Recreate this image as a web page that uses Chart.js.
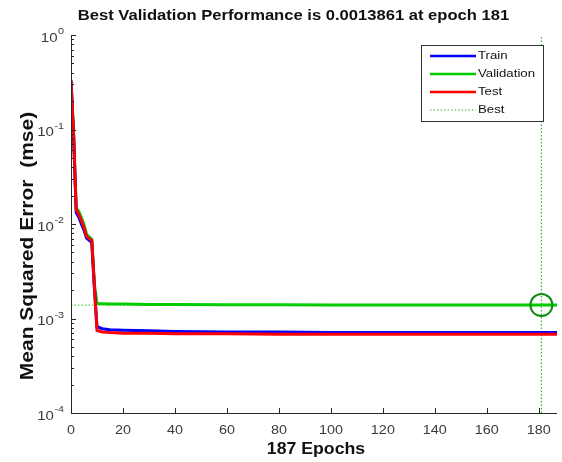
<!DOCTYPE html>
<html>
<head>
<meta charset="utf-8">
<script src="https://cdn.jsdelivr.net/npm/chart.js@4.4.1/dist/chart.umd.min.js"></script>
<style>
  html, body { margin: 0; padding: 0; background: #fff; }
  canvas { display: block; }
</style>
</head>
<body>
<canvas id="perf" width="562" height="462"></canvas>
<script>
// Training record (mse per epoch, read at the break points of each curve)
const epochs    = [0, 1, 2, 3, 4, 5, 6, 7, 8, 9, 10, 12, 15, 20, 30, 40, 60, 80, 100, 120, 140, 160, 181, 187];
const trainPerf = [0.33, 0.085, 0.0132, 0.0118, 0.0100, 0.0086, 0.0071, 0.0067, 0.0064, 0.0021, 0.00082, 0.00078, 0.00076, 0.00075, 0.00074, 0.00073, 0.00072, 0.00072, 0.00071, 0.00071, 0.00071, 0.00071, 0.00071, 0.00071];
const valPerf   = [0.33, 0.09, 0.0148, 0.0136, 0.0116, 0.0098, 0.0078, 0.0073, 0.0069, 0.0023, 0.00144, 0.00143, 0.00142, 0.00142, 0.00141, 0.00141, 0.00140, 0.00140, 0.00139, 0.00139, 0.00139, 0.00139, 0.0013861, 0.00139];
const testPerf  = [0.33, 0.088, 0.0142, 0.0127, 0.0109, 0.0092, 0.0074, 0.0070, 0.0067, 0.0022, 0.00075, 0.00072, 0.00071, 0.00070, 0.00070, 0.00069, 0.00069, 0.00068, 0.00068, 0.00068, 0.00068, 0.00068, 0.00068, 0.00068];

const bestEpoch = 181;
const bestPerf  = 0.0013861;
const maxEpoch  = 187;

const xTicks = [0, 20, 40, 60, 80, 100, 120, 140, 160, 180];
const yDecades = [-4, -3, -2, -1, 0];
const legendNames = ['Train', 'Validation', 'Test', 'Best'];

const FONT = '"Liberation Sans", Arial, Helvetica, sans-serif';
const C_TRAIN = '#0000ff', C_VAL = '#00cc00', C_TEST = '#ff0000';
const C_BEST = '#33b833', C_CIRCLE = '#118c11';

const pts = (ys) => epochs.map((e, i) => ({ x: e, y: ys[i] }));

// draws text with an optional horizontal stretch
function txt(ctx, s, x, y, size, bold, align, sx, color, rot) {
    ctx.save();
    ctx.translate(x, y);
    if (rot) ctx.rotate(rot);
    ctx.scale(sx || 1, 1);
    ctx.font = (bold ? 'bold ' : '') + size + 'px ' + FONT;
    ctx.textAlign = align;
    ctx.textBaseline = 'middle';
    ctx.fillStyle = color;
    ctx.fillText(s, 0, 0);
    ctx.restore();
}

const matlabAxes = {
    id: 'matlabAxes',
    beforeDraw(chart) {
        const ctx = chart.ctx;
        ctx.save();
        ctx.fillStyle = '#fff';
        ctx.fillRect(0, 0, chart.width, chart.height);
        ctx.restore();
    },
    afterDraw(chart) {
        const { ctx, chartArea: a, scales: { x, y } } = chart;
        ctx.save();

        // axis lines
        ctx.strokeStyle = '#262626';
        ctx.lineWidth = 1;
        ctx.beginPath();
        ctx.moveTo(a.left + 0.5, a.top);
        ctx.lineTo(a.left + 0.5, a.bottom + 0.5);
        ctx.lineTo(a.right, a.bottom + 0.5);
        ctx.stroke();

        // inward ticks
        ctx.beginPath();
        xTicks.forEach(v => {
            const px = Math.round(x.getPixelForValue(v)) + 0.5;
            ctx.moveTo(px, a.bottom);
            ctx.lineTo(px, a.bottom - 5);
        });
        yDecades.forEach((d, i) => {
            const base = Math.pow(10, d);
            let py = Math.round(y.getPixelForValue(base)) + 0.5;
            ctx.moveTo(a.left, py);
            ctx.lineTo(a.left + 5, py);
            if (i < yDecades.length - 1) {
                for (let m = 2; m <= 9; m++) {
                    py = Math.round(y.getPixelForValue(base * m)) + 0.5;
                    ctx.moveTo(a.left, py);
                    ctx.lineTo(a.left + 3, py);
                }
            }
        });
        ctx.stroke();

        // tick labels
        xTicks.forEach(v => {
            txt(ctx, String(v), x.getPixelForValue(v), 431, 12, false, 'center', 1.2, '#3a3a3a');
        });
        yDecades.forEach(d => {
            const py = y.getPixelForValue(Math.pow(10, d));
            const exp = String(d);
            ctx.font = '9px ' + FONT;
            const ew = ctx.measureText(exp).width * 1.2;
            const right = 64;
            txt(ctx, exp, right, py - 3, 9, false, 'right', 1.2, '#3a3a3a');
            txt(ctx, '10', right - ew - 0.5, py + 3.5, 12, false, 'right', 1.25, '#3a3a3a');
        });

        // titles
        txt(ctx, 'Best Validation Performance is ' + bestPerf + ' at epoch ' + bestEpoch,
            293.5, 16, 15.5, true, 'center', 1.07, '#111');
        txt(ctx, maxEpoch + ' Epochs', 316, 449, 17, true, 'center', 1.04, '#111');
        txt(ctx, 'Mean Squared Error  (mse)', 28, 246, 17.5, true, 'center', 1.2, '#111', -Math.PI / 2);

        // legend
        const lx = 421.5, ly = 45.5, lw = 122, lh = 76;
        ctx.fillStyle = '#fff';
        ctx.fillRect(lx, ly, lw, lh);
        ctx.strokeStyle = '#333';
        ctx.lineWidth = 1;
        ctx.strokeRect(lx, ly, lw, lh);
        const rows = [56, 74, 92, 110];
        const styles = [
            { c: C_TRAIN, w: 2.5, dash: [] },
            { c: C_VAL, w: 2.5, dash: [] },
            { c: C_TEST, w: 2.5, dash: [] },
            { c: C_BEST, w: 1, dash: [1.5, 2] }
        ];
        legendNames.forEach((name, i) => {
            ctx.beginPath();
            ctx.strokeStyle = styles[i].c;
            ctx.lineWidth = styles[i].w;
            ctx.setLineDash(styles[i].dash);
            ctx.moveTo(430, rows[i]);
            ctx.lineTo(476, rows[i]);
            ctx.stroke();
            ctx.setLineDash([]);
            txt(ctx, name, 478, rows[i], 11, false, 'left', 1.2, '#111');
        });
        ctx.restore();
    }
};

const lineSet = (label, data, color, order) => ({
    label, data, order,
    borderColor: color,
    backgroundColor: color,
    borderWidth: 3,
    pointRadius: 0,
    tension: 0,
    fill: false
});

new Chart(document.getElementById('perf'), {
    type: 'line',
    data: {
        datasets: [
            lineSet('Train', pts(trainPerf), C_TRAIN, 2),
            lineSet('Validation', pts(valPerf), C_VAL, 3),
            lineSet('Test', pts(testPerf), C_TEST, 1),
            {
                label: 'Best',
                data: [{ x: 0, y: bestPerf }, { x: bestEpoch, y: bestPerf }],
                borderColor: C_BEST, borderWidth: 1, borderDash: [1.5, 2],
                pointRadius: 0, fill: false, order: 4
            },
            {
                label: 'Best epoch',
                data: [{ x: bestEpoch, y: 1e-4 }, { x: bestEpoch, y: 1 }],
                borderColor: C_BEST, borderWidth: 1.2, borderDash: [1.5, 2],
                pointRadius: 0, fill: false, order: 5
            },
            {
                label: 'Best point',
                data: [{ x: bestEpoch, y: bestPerf }],
                showLine: false,
                pointRadius: 11,
                pointBorderWidth: 2,
                pointBorderColor: C_CIRCLE,
                pointBackgroundColor: 'rgba(0,0,0,0)',
                order: 0
            }
        ]
    },
    options: {
        responsive: false,
        animation: false,
        devicePixelRatio: 1,
        layout: { autoPadding: false, padding: { left: 71, top: 35, right: 5, bottom: 49 } },
        plugins: {
            legend: { display: false },
            title: { display: false },
            tooltip: { enabled: false }
        },
        scales: {
            x: {
                type: 'linear', min: 0, max: maxEpoch,
                ticks: { display: false },
                grid: { display: false, drawTicks: false },
                border: { display: false }
            },
            y: {
                type: 'logarithmic', min: 1e-4, max: 1,
                ticks: { display: false },
                grid: { display: false, drawTicks: false },
                border: { display: false }
            }
        }
    },
    plugins: [matlabAxes]
});
</script>
</body>
</html>
